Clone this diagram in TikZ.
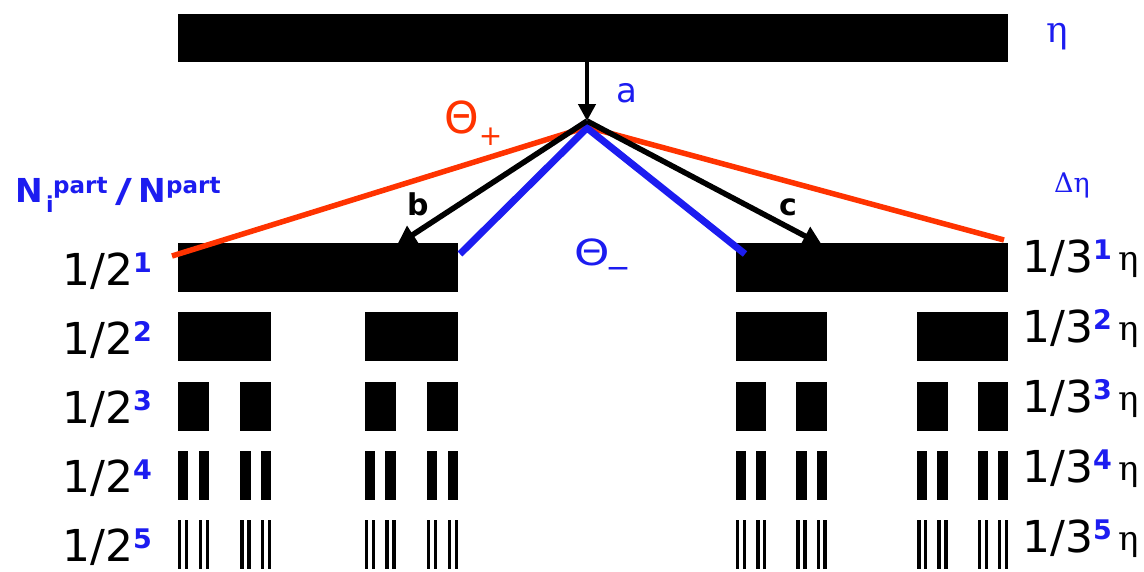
\documentclass[tikz,border=0pt]{standalone}
\usepackage{fontspec}
\setmainfont{DejaVu Sans}
\newfontfamily\serifgr{DejaVu Serif}
\usetikzlibrary{arrows.meta}
\definecolor{myblue}{RGB}{28,28,240}
\definecolor{myorange}{RGB}{255,51,0}
\newcommand\fs[1]{\fontsize{#1}{#1}\selectfont}
\newcommand\bexp[1]{{\color{myblue}\fs{27}\bfseries\raisebox{13pt}{#1}}}
\newcommand\barh{49}
\newcommand\cantor[4]{%
  \fill[barfill] (#1,#3) rectangle ++(#2,\barh);
  \ifnum#4>1\relax
    \begingroup
    \pgfmathsetmacro\cw{#2/3}%
    \pgfmathsetmacro\cxr{#1+2*#2/3}%
    \pgfmathsetmacro\cy{#3+69.25}%
    \pgfmathtruncatemacro\cd{#4-1}%
    \edef\next{\noexpand\cantor{#1}{\cw}{\cy}{\cd}\noexpand\cantor{\cxr}{\cw}{\cy}{\cd}}%
    \next
    \endgroup
  \fi}
\begin{document}
\begin{tikzpicture}[x=1pt,y=-1pt,
  barfill/.style={fill=black},
  lbl/.style={anchor=base west, inner sep=0pt, font=\fs{44}},
  txt/.style={anchor=base west, inner sep=0pt},
  blk/.style={line width=5.5pt, -{Triangle[length=19pt,width=20pt]}},
  orl/.style={line width=5.5pt, draw=myorange},
  bll/.style={line width=7pt, draw=myblue}]
\useasboundingbox (0,0) rectangle (1144,571);
% top bar
\fill[barfill] (178,14) rectangle (1008,62);
% Cantor levels
\cantor{178}{280}{243}{5}
\cantor{736}{272}{243}{5}
% coordinates
\coordinate (src) at (587,62);
\coordinate (apex) at (587,121);
\coordinate (oL) at (172,256);
\coordinate (oR) at (1004,240);
\coordinate (oa) at (587,127);
\coordinate (bL) at (460,254);
\coordinate (bR) at (745,254);
\coordinate (ba) at (587,128);
\coordinate (tb) at (397,245);
\coordinate (tc) at (822,245);
% lines
\draw[orl] (oL) -- (oa) -- (oR);
\draw[bll] (bL) -- (ba) -- (bR);
\draw[blk] (apex) -- (tb);
\draw[blk] (apex) -- (tc);
\draw[line width=4.5pt, -{Triangle[length=17pt,width=17pt]}] (src) -- (apex);
% labels
\foreach \i/\yb in {1/285,2/354,3/423,4/492,5/561}{
  \node[lbl] (l\i) at (62,\yb) {1/2\bexp{\i}};
}
\foreach \i/\yb in {1/272,2/342,3/412,4/482,5/552}{
  \node[lbl] (r\i) at (1022,\yb) {1/3\bexp{\i}\hspace{7pt}\raisebox{2pt}{\serifgr\fs{34}η}};
}
\node[font=\serifgr\fs{36}, text=myblue] (eta) at (1057,37) {η};
\node[font=\serifgr\fs{27}, text=myblue] (deta) at (1072,185) {Δη};
\node[txt, text=myblue, font=\fs{33}\bfseries] (ratio) at (15,202)
  {\rlap{N}\hspace{31pt}\rlap{\raisebox{-10pt}{\fs{22}i}}\hspace{7pt}\rlap{\raisebox{9pt}{\fs{23}part}}\hspace{62pt}\rlap{\scalebox{1.4}[1]{/}}\hspace{23pt}\rlap{N}\hspace{28pt}\raisebox{9pt}{\fs{23}part}};
\node[txt, text=myorange, font=\fs{44}] (tp) at (444,133) {Θ\raisebox{-12pt}{\fs{28}+}};
\node[txt, text=myblue, font=\fs{36}] (tm) at (574,265) {\scalebox{1.25}[1]{Θ}\raisebox{4pt}{\_}};
\node[txt, text=myblue, font=\fs{34}] (a) at (616,102) {a};
\node[txt, font=\fs{30}\bfseries] (b) at (407,215) {b};
\node[txt, font=\fs{30}\bfseries] (c) at (779,215) {c};
\end{tikzpicture}
\end{document}
